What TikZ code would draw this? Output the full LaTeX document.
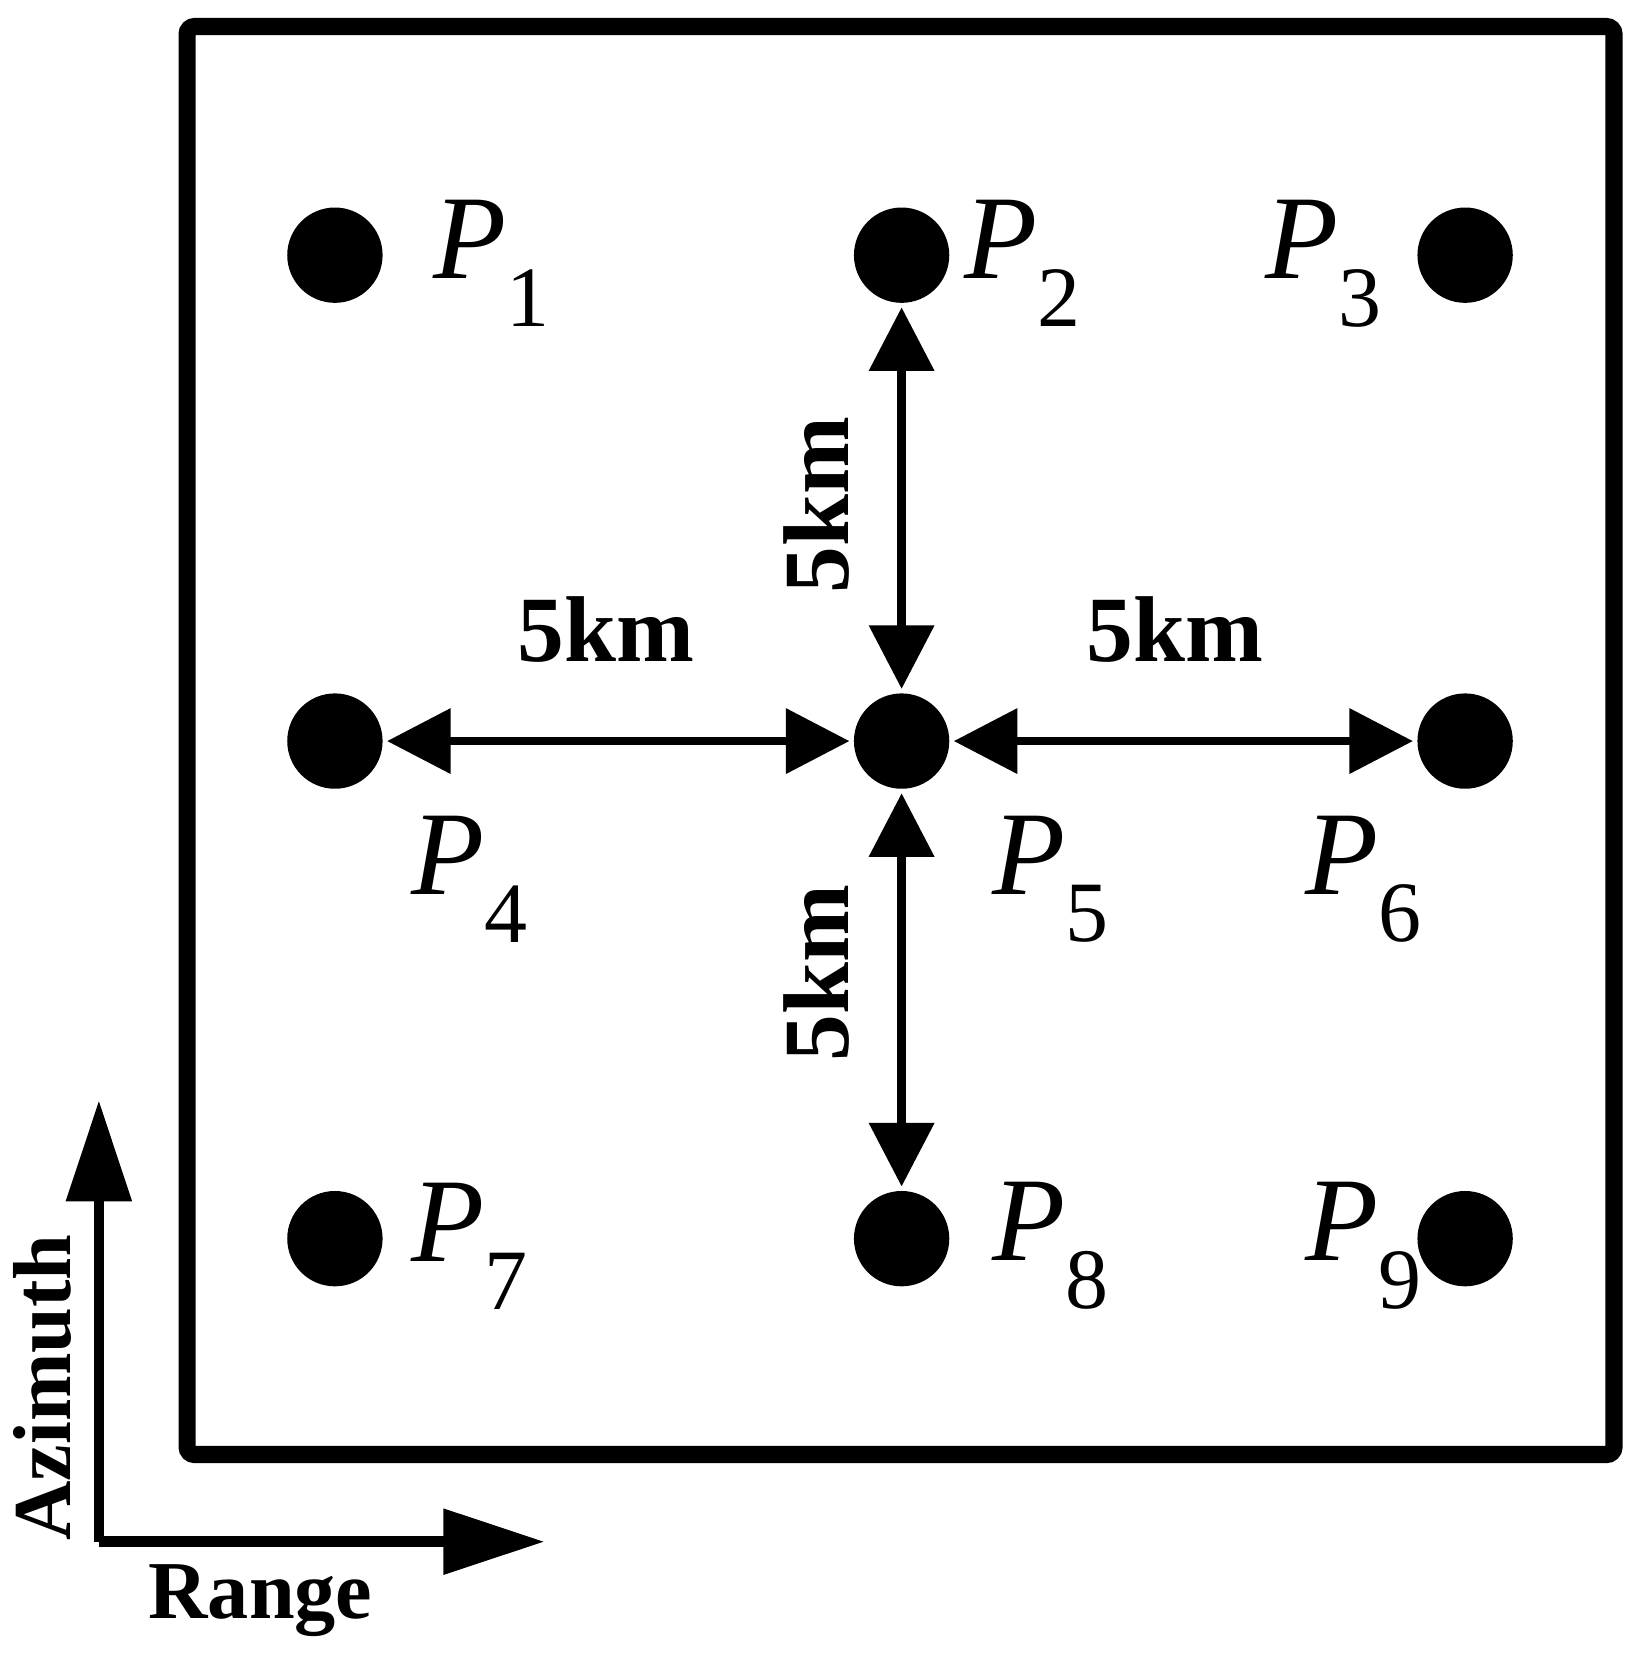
\documentclass[tikz,border=0pt]{standalone}
\usepackage{fontspec}
\setmainfont{Liberation Serif}
\usetikzlibrary{arrows.meta}
\begin{document}
\begin{tikzpicture}[x=0.01cm,y=-0.01cm,
  dotn/.style={circle,fill=black,minimum size=25.5pt,inner sep=0pt},
  plab/.style={font=\fontsize{32}{32}\selectfont,inner sep=0pt},
  dist/.style={line width=2.3pt,{Triangle[length=17pt,width=17pt]}-{Triangle[length=17pt,width=17pt]},shorten <=1pt,shorten >=1pt},
  axis/.style={line width=2.8pt,-{Triangle[length=27pt,width=17pt]}},
  km/.style={font=\fontsize{25}{25}\selectfont\bfseries},
  axl/.style={font=\fontsize{22}{22}\selectfont\bfseries}]
\useasboundingbox (0,0) rectangle (1549,1566);
\draw[line width=4.6pt,rounded corners=2pt] (176,25) rectangle (1518,1368);
\node[dotn] (p1) at (315,240) {};
\node[dotn] (p2) at (848,240) {};
\node[dotn] (p3) at (1378,240) {};
\node[dotn] (p4) at (315,697) {};
\node[dotn] (p5) at (848,697) {};
\node[dotn] (p6) at (1378,697) {};
\node[dotn] (p7) at (315,1165) {};
\node[dotn] (p8) at (848,1165) {};
\node[dotn] (p9) at (1378,1165) {};
\newcommand{\plabel}[1]{\textit{P}\raisebox{-0.4em}{\fontsize{23}{23}\selectfont #1}}
\node[plab] (l1) at (462,248) {\plabel{1}};
\node[plab] (l2) at (962,248) {\plabel{2}};
\node[plab] (l3) at (1245,248) {\plabel{3}};
\node[plab] (l4) at (442,827) {\plabel{4}};
\node[plab] (l5) at (988,827) {\plabel{5}};
\node[plab] (l6) at (1282,827) {\plabel{6}};
\node[plab] (l7) at (442,1172) {\plabel{7}};
\node[plab] (l8) at (988,1172) {\plabel{8}};
\node[plab] (l9) at (1282,1172) {\plabel{9}};
\draw[dist] (p5) -- (p2);
\draw[dist] (p5) -- (p4);
\draw[dist] (p5) -- (p6);
\draw[dist] (p5) -- (p8);
\node[km] (k1) at (570,592) {5km};
\node[km] (k2) at (1105,592) {5km};
\node[km,rotate=90] (k3) at (768,475) {5km};
\node[km,rotate=90] (k4) at (768,915) {5km};
\coordinate (o) at (93,1450);
\coordinate (ay) at (93,1035);
\coordinate (ax) at (512,1450);
\draw[axis] (o) -- (ay);
\draw[axis] (o) -- (ax);
\node[axl,rotate=90] (az) at (40,1305) {Azimuth};
\node[axl] (rg) at (245,1505) {Range};
\end{tikzpicture}
\end{document}
